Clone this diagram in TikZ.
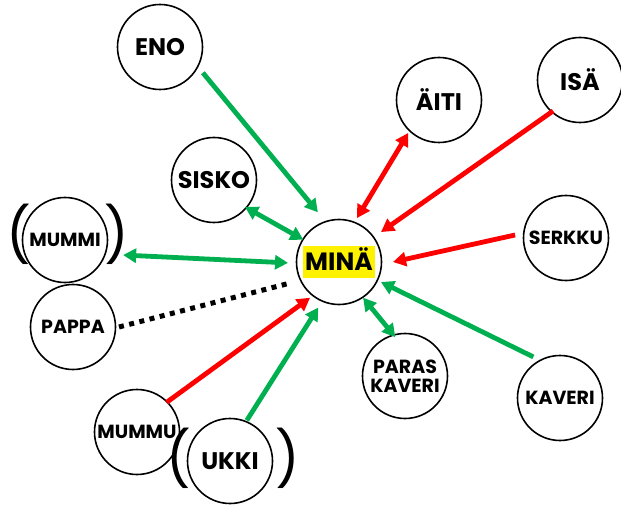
\documentclass[tikz,border=0pt]{standalone}
\usepackage{fontspec}
\setmainfont{Poppins}
\usetikzlibrary{arrows.meta}
\definecolor{grn}{RGB}{0,176,80}
\definecolor{rd}{RGB}{255,0,0}
\definecolor{hl}{RGB}{255,242,0}
\begin{document}
\begin{tikzpicture}[x=1pt,y=1pt,
  person/.style={circle,draw,line width=1.6pt,minimum size=85pt,inner sep=0pt,align=center,
    font=\bfseries\fontsize{24}{26}\selectfont},
  small/.style={font=\bfseries\fontsize{19}{22}\selectfont},
  paren/.style={inner sep=0pt,font=\fontsize{54}{58}\selectfont},
  lnk/.style={line width=4.8pt},
  one/.style={lnk,-{Triangle[length=13pt,width=14pt]}},
  two/.style={lnk,{Triangle[length=13pt,width=14pt]}-{Triangle[length=13pt,width=14pt]}},
  dots/.style={line width=5pt,dash pattern=on 5pt off 5.5pt}]
\useasboundingbox (0,0) rectangle (621,504);
% nodes
\node[person] (mina) at (339,242) {};
\node[inner xsep=2pt,inner ysep=0pt,fill=hl,text height=24pt,text depth=7pt,
  font=\bfseries\fontsize{25}{27}\selectfont] (minatext) at (mina.center) {MINÄ};
\node[person] (eno) at (160,457) {ENO};
\node[person] (sisko) at (214,324) {SISKO};
\node[person,small] (mummi) at (65,264) {MUMMI};
\node[person,small] (pappa) at (73,177) {PAPPA};
\node[person,small] (mummu) at (137,72) {MUMMU};
\node[person] (ukki) at (230,43) {UKKI};
\node[person] (aiti) at (439,404) {ÄITI};
\node[person] (isa) at (580,424) {ISÄ};
\node[person,small] (serkku) at (566,266) {SERKKU};
\node[person,small] (paras) at (405,128) {PARAS\\[-3pt]KAVERI};
\node[person,small] (kaveri) at (560,106) {KAVERI};
% parentheses
\node[paren] (mp1) at (19,270) {(};
\node[paren] (mp2) at (117,270) {)};
\node[paren] (up1) at (179,46) {(};
\node[paren] (up2) at (288,46) {)};
% connectors
\draw[one,grn] ([shift={(-31:50)}]eno.center) -- ([shift={(113:54)}]mina.center);
\draw[two,grn] ([shift={(-41:41)}]sisko.center) -- ([shift={(148:42)}]mina.center);
\draw[two,grn] ([shift={(-14.5:60)}]mummi.center) -- ([shift={(181:51)}]mina.center);
\draw[dots] ([shift={(0:46)}]pappa.center) -- ([shift={(203:55)}]mina.center);
\draw[one,rd] ([shift={(45:42)}]mummu.center) -- ([shift={(231:46)}]mina.center);
\draw[one,grn] ([shift={(67.5:44)}]ukki.center) -- ([shift={(245.5:50)}]mina.center);
\draw[two,grn] ([shift={(104:40)}]paras.center) -- ([shift={(304:43)}]mina.center);
\draw[one,grn] ([shift={(123:49)}]kaveri.center) -- ([shift={(-25.5:46.5)}]mina.center);
\draw[one,rd] ([shift={(176.6:51)}]serkku.center) -- ([shift={(0:54)}]mina.center);
\draw[one,rd] ([shift={(229:41)}]isa.center) -- ([shift={(35.5:51.6)}]mina.center);
\draw[two,rd] ([shift={(227:45)}]aiti.center) -- ([shift={(67.7:47.5)}]mina.center);
\end{tikzpicture}
\end{document}
